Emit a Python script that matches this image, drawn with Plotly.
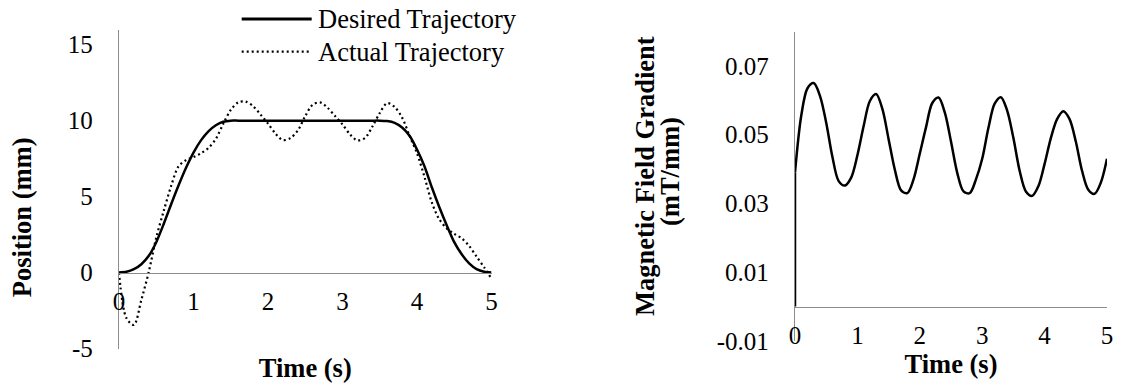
import plotly.graph_objects as go

# ---------------- data ----------------
time_s = [0.0, 0.1, 0.2, 0.3, 0.4, 0.5, 0.6, 0.7, 0.8, 0.9,
          1.0, 1.1, 1.2, 1.3, 1.4, 1.5, 1.6, 1.7, 1.8, 1.9,
          2.0, 2.1, 2.2, 2.3, 2.4, 2.5, 2.6, 2.7, 2.8, 2.9,
          3.0, 3.1, 3.2, 3.3, 3.4, 3.5, 3.6, 3.7, 3.8, 3.9,
          4.0, 4.1, 4.2, 4.3, 4.4, 4.5, 4.6, 4.7, 4.8, 4.9, 5.0]

desired_mm = [0.0, 0.05, 0.22, 0.55, 1.1, 2.0, 3.2, 4.5, 5.75, 6.9,
              7.9, 8.7, 9.3, 9.7, 9.93, 10.0, 10.0, 10.0, 10.0, 10.0,
              10.0, 10.0, 10.0, 10.0, 10.0, 10.0, 10.0, 10.0, 10.0, 10.0,
              10.0, 10.0, 10.0, 10.0, 10.0, 10.0, 9.97, 9.85, 9.55, 9.0,
              8.1, 7.0, 5.6, 4.3, 3.1, 2.0, 1.2, 0.6, 0.22, 0.05, 0.0]

actual_mm = [0.0, -3.0, -3.45, -1.8, 0.05, 2.3, 4.05, 5.7, 7.0, 7.4,
             7.6, 7.85, 8.2, 8.8, 9.8, 10.7, 11.2, 11.25, 10.95, 10.4,
             9.8, 9.15, 8.72, 8.85, 9.35, 10.3, 11.05, 11.2, 10.85, 10.3,
             9.75, 9.1, 8.7, 8.85, 9.6, 10.5, 11.15, 10.9, 10.2, 9.0,
             7.85, 6.3, 4.6, 3.5, 2.9, 2.55, 2.25, 1.75, 1.05, 0.35, -0.4]

grad_time_s = [0.0, 0.0, 0.1, 0.2, 0.3, 0.4, 0.5, 0.6, 0.7, 0.8, 0.9,
               1.0, 1.1, 1.2, 1.3, 1.4, 1.5, 1.6, 1.7, 1.8, 1.9,
               2.0, 2.1, 2.2, 2.3, 2.4, 2.5, 2.6, 2.7, 2.8, 2.9,
               3.0, 3.1, 3.2, 3.3, 3.4, 3.5, 3.6, 3.7, 3.8, 3.9,
               4.0, 4.1, 4.2, 4.3, 4.4, 4.5, 4.6, 4.7, 4.8, 4.9, 5.0]

gradient_mT_mm = [0.0, 0.039, 0.0555, 0.0635, 0.065, 0.0613, 0.0535, 0.0435, 0.0365, 0.0352, 0.0375,
                  0.044, 0.0525, 0.0598, 0.0618, 0.0575, 0.0487, 0.0398, 0.0338, 0.033, 0.037,
                  0.0445, 0.0522, 0.0592, 0.0608, 0.0565, 0.048, 0.0389, 0.0335, 0.033, 0.037,
                  0.043, 0.052, 0.059, 0.0609, 0.057, 0.049, 0.0395, 0.0335, 0.0322, 0.035,
                  0.0415, 0.049, 0.0545, 0.0568, 0.0545, 0.048, 0.0395, 0.034, 0.0328, 0.036, 0.043]

series_names = ["Desired Trajectory", "Actual Trajectory"]

x_tickvals = [0, 1, 2, 3, 4, 5]
pos_tickvals = [-5, 0, 5, 10, 15]
pos_ticktext = ["-5", "0", "5", "10", "15"]
grad_tickvals = [-0.01, 0.01, 0.03, 0.05, 0.07]
grad_ticktext = ["-0.01", "0.01", "0.03", "0.05", "0.07"]

# ---------------- layout constants ----------------
W, H = 1122, 387
FONT = "Liberation Serif, Times New Roman, serif"
GRAY = "#8c8c8c"
TICK_SIZE = 25
TITLE_SIZE = 26.5

L_XRANGE, L_YRANGE = [0, 5], [-5, 16]
R_XRANGE, R_YRANGE = [0, 5], [-0.01, 0.08]
L_XDOM = [119 / W, 491.5 / W]
L_YDOM = [1 - 348.5 / H, 1 - 29.5 / H]
R_XDOM = [795 / W, 1107 / W]
R_YDOM = [1 - 341 / H, 1 - 31.5 / H]


def zero_pos(dom, rng):
    return dom[0] + (0 - rng[0]) / (rng[1] - rng[0]) * (dom[1] - dom[0])


fig = go.Figure()
fig.add_trace(go.Scatter(x=time_s, y=desired_mm, mode="lines", name=series_names[0],
                         line=dict(color="black", width=2.5, shape="spline", smoothing=0.7),
                         xaxis="x", yaxis="y", showlegend=False))
fig.add_trace(go.Scatter(x=time_s, y=actual_mm, mode="lines", name=series_names[1],
                         line=dict(color="black", width=2.2, dash="2px,3px", shape="spline", smoothing=0.9),
                         xaxis="x", yaxis="y", showlegend=False))
# initial step of the gradient (vertical jump at t = 0)
fig.add_trace(go.Scatter(x=grad_time_s[:2], y=gradient_mT_mm[:2], mode="lines", name="Gradient step",
                         line=dict(color="black", width=2.5), cliponaxis=False,
                         xaxis="x2", yaxis="y2", showlegend=False))
fig.add_trace(go.Scatter(x=grad_time_s[1:], y=gradient_mT_mm[1:], mode="lines", name="Gradient",
                         line=dict(color="black", width=2.5, shape="spline", smoothing=0.9),
                         xaxis="x2", yaxis="y2", showlegend=False))

common_x = dict(showline=True, linecolor=GRAY, linewidth=1.3, showgrid=False, zeroline=False,
                ticks="", tickvals=x_tickvals, tickfont=dict(size=TICK_SIZE, color="black"),
                ticklabelstandoff=6, automargin=False, anchor="free")
common_y = dict(showline=True, linecolor=GRAY, linewidth=1.3, showgrid=False, zeroline=False,
                ticks="", tickfont=dict(size=TICK_SIZE, color="black"),
                ticklabelstandoff=20, automargin=False)

shapes = []
annotations = []
leg_y = [19, 51.7]
for i, name in enumerate(series_names):
    shapes.append(dict(type="line", xref="paper", yref="paper",
                       x0=241.7 / W, x1=311.7 / W, y0=1 - leg_y[i] / H, y1=1 - leg_y[i] / H,
                       line=dict(color="black", width=3 if i == 0 else 2.2,
                                 dash="solid" if i == 0 else "2px,3px")))
    annotations.append(dict(text=name, xref="paper", yref="paper", x=316 / W, y=1 - leg_y[i] / H,
                            xanchor="left", yanchor="middle", showarrow=False,
                            font=dict(size=TITLE_SIZE, color="black", family=FONT)))

# y-axis titles (placed as rotated text to match the reference placement)
y_titles = [("<b>Position (mm)</b>", 21.7, 217.5),
            ("<b>Magnetic Field Gradient</b>", 645, 176),
            ("<b>(mT/mm)</b>", 670, 172)]
for txt, px, py in y_titles:
    annotations.append(dict(text=txt, xref="paper", yref="paper", x=px / W, y=1 - py / H,
                            xanchor="center", yanchor="middle", textangle=-90, showarrow=False,
                            font=dict(size=TITLE_SIZE, color="black", family=FONT)))

fig.update_layout(
    width=W, height=H,
    margin=dict(l=0, r=0, t=0, b=0),
    paper_bgcolor="white", plot_bgcolor="white",
    font=dict(family=FONT, color="black"),
    xaxis=dict(domain=L_XDOM, range=L_XRANGE, position=zero_pos(L_YDOM, L_YRANGE),
               title=dict(text="<b>Time (s)</b>", font=dict(size=TITLE_SIZE), standoff=44),
               **common_x),
    yaxis=dict(domain=L_YDOM, range=L_YRANGE, anchor="x", tickvals=pos_tickvals,
               ticktext=pos_ticktext, **common_y),
    xaxis2=dict(domain=R_XDOM, range=R_XRANGE, position=zero_pos(R_YDOM, R_YRANGE),
                title=dict(text="<b>Time (s)</b>", font=dict(size=TITLE_SIZE), standoff=0),
                **common_x),
    yaxis2=dict(domain=R_YDOM, range=R_YRANGE, anchor="x2", tickvals=grad_tickvals,
                ticktext=grad_ticktext, **common_y),
    shapes=shapes,
    annotations=annotations,
)

fig.write_html("out.html")
